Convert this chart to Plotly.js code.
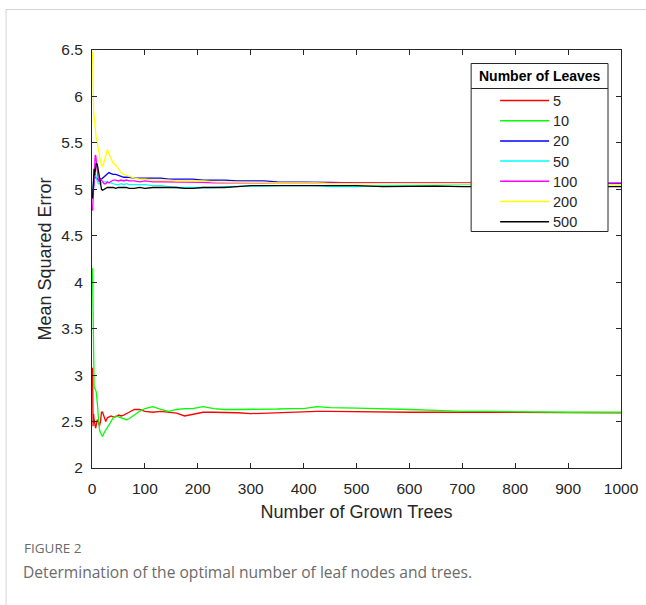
<!DOCTYPE html>
<html>
<head>
<meta charset="utf-8">
<script src="https://cdn.plot.ly/plotly-3.0.1.min.js"></script>
<style>
html,body{margin:0;padding:0;background:#fff;}
#chart{width:646px;height:605px;}
</style>
</head>
<body>
<div id="chart"></div>
<script>
// Number of grown trees (x positions of sampled points)
const trees = [1,2,3,4,5,6,7,8,10,12,14,16,18,20,23,26,29,32,36,40,45,50,55,60,65,70,80,90,100,115,130,145,160,175,190,210,230,250,275,300,325,350,375,400,425,450,500,550,600,650,700,750,800,850,900,950,1000];

// Legend labels (number of leaves)
const leafLabels = ["5","10","20","50","100","200","500"];
const legendTitle = "Number of Leaves";

// Mean squared error for each leaf setting
const mse5   = [3.08,2.45,2.58,2.52,2.46,2.45,2.43,2.48,2.52,2.50,2.45,2.50,2.60,2.60,2.54,2.50,2.54,2.55,2.56,2.55,2.55,2.57,2.56,2.57,2.59,2.60,2.63,2.63,2.61,2.60,2.61,2.60,2.59,2.56,2.58,2.60,2.60,2.60,2.595,2.585,2.59,2.60,2.605,2.61,2.61,2.61,2.605,2.60,2.60,2.60,2.60,2.60,2.595,2.595,2.595,2.60,2.595];
const mse10  = [4.15,3.40,2.95,2.87,2.86,2.85,2.84,2.82,2.70,2.55,2.42,2.38,2.35,2.34,2.38,2.41,2.44,2.47,2.50,2.54,2.56,2.55,2.54,2.53,2.52,2.53,2.57,2.61,2.64,2.66,2.63,2.61,2.63,2.64,2.64,2.66,2.64,2.63,2.63,2.63,2.63,2.635,2.64,2.64,2.66,2.65,2.645,2.64,2.63,2.62,2.61,2.61,2.605,2.605,2.60,2.60,2.60];
const mse20  = [4.92,5.00,5.08,5.12,5.14,5.13,5.13,5.12,5.11,5.10,5.10,5.10,5.11,5.12,5.14,5.16,5.17,5.18,5.17,5.16,5.16,5.15,5.14,5.13,5.13,5.13,5.12,5.12,5.12,5.12,5.12,5.11,5.11,5.11,5.11,5.10,5.10,5.10,5.09,5.09,5.09,5.08,5.08,5.08,5.08,5.075,5.07,5.07,5.07,5.07,5.065,5.065,5.065,5.06,5.06,5.06,5.06];
const mse50  = [5.00,5.05,5.10,5.14,5.16,5.17,5.16,5.12,5.08,5.06,5.06,5.06,5.07,5.08,5.08,5.08,5.08,5.07,5.07,5.06,5.05,5.05,5.06,5.05,5.06,5.05,5.05,5.05,5.05,5.04,5.04,5.03,5.02,5.02,5.02,5.02,5.02,5.03,5.03,5.03,5.035,5.04,5.04,5.04,5.04,5.03,5.03,5.04,5.04,5.045,5.05,5.05,5.05,5.05,5.05,5.05,5.05];
const mse100 = [4.77,4.90,5.05,5.20,5.30,5.36,5.37,5.30,5.18,5.10,5.08,5.12,5.10,5.08,5.06,5.06,5.08,5.07,5.09,5.10,5.10,5.09,5.10,5.09,5.10,5.09,5.09,5.08,5.09,5.08,5.08,5.08,5.08,5.08,5.08,5.075,5.07,5.07,5.07,5.07,5.07,5.07,5.07,5.07,5.07,5.07,5.07,5.07,5.07,5.07,5.07,5.07,5.07,5.07,5.07,5.07,5.07];
const mse200 = [6.48,5.95,5.85,5.78,5.70,5.62,5.58,5.55,5.50,5.42,5.36,5.30,5.26,5.24,5.30,5.38,5.43,5.38,5.32,5.28,5.26,5.22,5.18,5.16,5.15,5.14,5.12,5.11,5.11,5.10,5.10,5.10,5.09,5.09,5.09,5.09,5.08,5.08,5.08,5.08,5.075,5.07,5.07,5.07,5.07,5.06,5.06,5.065,5.06,5.06,5.06,5.06,5.06,5.055,5.055,5.055,5.05];
const mse500 = [4.90,5.05,5.18,5.22,5.15,5.20,5.25,5.28,5.27,5.20,5.10,5.03,5.00,4.99,5.00,5.01,5.02,5.02,5.02,5.02,5.01,5.02,5.02,5.02,5.02,5.01,5.01,5.02,5.01,5.02,5.02,5.02,5.02,5.01,5.01,5.02,5.02,5.02,5.03,5.04,5.04,5.04,5.035,5.04,5.04,5.04,5.04,5.03,5.035,5.035,5.03,5.03,5.03,5.03,5.03,5.03,5.03];

const series = [mse5, mse10, mse20, mse50, mse100, mse200, mse500];
const colors = ["#ff0000","#00ff00","#0000ff","#00ffff","#ff00ff","#ffff00","#000000"];

const traces = series.map((ys, i) => ({
  x: trees, y: ys, type: "scatter", mode: "lines",
  name: leafLabels[i], showlegend: false,
  line: {color: colors[i], width: 1.3}
}));

// Plot-area geometry in pixels (for placing page decorations)
const L = 91.5, R = 621, T = 50, B = 468;
const px = v => (v - L) / (R - L);
const py = v => (B - v) / (B - T);

const FAM = "Arial, 'Liberation Sans', sans-serif";
const axisFont = {family: FAM, size: 15.5, color: "#262626"};

// Legend box (MATLAB-style, with title row)
const shapes = [
  {type: "line", xref: "paper", yref: "paper", x0: px(5), x1: px(646), y0: py(9.5), y1: py(9.5), line: {color: "#d4d4d4", width: 1}},
  {type: "line", xref: "paper", yref: "paper", x0: px(5.5), x1: px(5.5), y0: py(9.5), y1: py(605), line: {color: "#d4d4d4", width: 1}},
  {type: "rect", xref: "paper", yref: "paper", x0: px(471), x1: px(608), y0: py(63.5), y1: py(231.5), fillcolor: "#ffffff", line: {color: "#262626", width: 1}, layer: "above"},
  {type: "line", xref: "paper", yref: "paper", x0: px(471), x1: px(608), y0: py(88.5), y1: py(88.5), line: {color: "#262626", width: 1}, layer: "above"}
];
const annotations = [
  {text: "<b>" + legendTitle + "</b>", xref: "paper", yref: "paper", x: px(539.5), y: py(76), xanchor: "center", yanchor: "middle", showarrow: false,
   font: {family: FAM, size: 14, color: "#000000"}},
  {text: "FIGURE 2", xref: "paper", yref: "paper", x: px(21), y: py(548), xanchor: "left", yanchor: "middle", showarrow: false,
   font: {family: "'Open Sans', sans-serif", size: 13.5, color: "#6b6b6b"}},
  {text: "Determination of the optimal number of leaf nodes and trees.", xref: "paper", yref: "paper", x: px(20), y: py(572), xanchor: "left", yanchor: "middle", showarrow: false,
   font: {family: "'Open Sans', sans-serif", size: 15.6, color: "#6b6b6b"}}
];
leafLabels.forEach((lab, i) => {
  const yy = 100.5 + i * 20.2;
  shapes.push({type: "line", xref: "paper", yref: "paper", x0: px(500), x1: px(549), y0: py(yy), y1: py(yy),
               line: {color: colors[i], width: 1.5}, layer: "above"});
  annotations.push({text: lab, xref: "paper", yref: "paper", x: px(551), y: py(yy + 0.5), xanchor: "left", yanchor: "middle", showarrow: false,
                    font: {family: FAM, size: 14.5, color: "#262626"}});
});

const layout = {
  width: 646, height: 605,
  margin: {l: L, r: 646 - R, t: T, b: 605 - B},
  paper_bgcolor: "#ffffff", plot_bgcolor: "#ffffff",
  showlegend: false,
  font: axisFont,
  xaxis: {
    range: [0, 1000], tickvals: [0,100,200,300,400,500,600,700,800,900,1000],
    ticks: "inside", ticklen: 5, tickcolor: "#262626", ticklabelstandoff: 6,
    showline: true, linecolor: "#262626", linewidth: 1, mirror: "ticks",
    showgrid: false, zeroline: false, tickfont: axisFont,
    title: {text: "Number of Grown Trees", font: {family: FAM, size: 18, color: "#262626"}, standoff: 9}
  },
  yaxis: {
    range: [2, 6.5], tickvals: [2,2.5,3,3.5,4,4.5,5,5.5,6,6.5],
    ticktext: ["2","2.5","3","3.5","4","4.5","5","5.5","6","6.5"],
    ticks: "inside", ticklen: 5, tickcolor: "#262626", ticklabelstandoff: 5,
    showline: true, linecolor: "#262626", linewidth: 1, mirror: "ticks",
    showgrid: false, zeroline: false, tickfont: axisFont,
    title: {text: "Mean Squared Error", font: {family: FAM, size: 18, color: "#262626"}, standoff: 5}
  },
  shapes: shapes,
  annotations: annotations
};

Plotly.newPlot("chart", traces, layout, {displayModeBar: false, staticPlot: true});
</script>
</body>
</html>
